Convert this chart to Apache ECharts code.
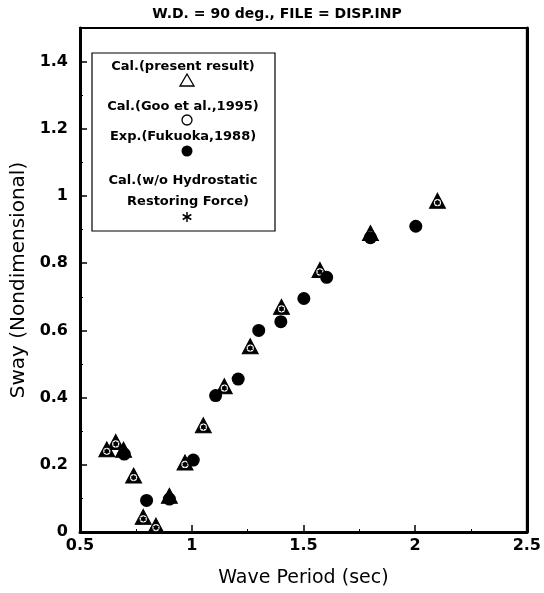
<!DOCTYPE html>
<html>
<head>
<meta charset="utf-8">
<script src="https://cdn.jsdelivr.net/npm/echarts@6/dist/echarts.min.js"></script>
<style>
  html, body { margin: 0; padding: 0; background: #fff; }
  #chart { width: 544px; height: 593px; }
</style>
</head>
<body>
<div id="chart"></div>
<script>
// Datos (periodo en s, sway adimensional)
var calPeriod = [0.62, 0.66, 0.695, 0.74, 0.783, 0.84, 0.9, 0.97, 1.052, 1.146, 1.262, 1.402, 1.574, 1.8, 2.1];
var calSway   = [0.246, 0.268, 0.245, 0.168, 0.045, 0.019, 0.108, 0.207, 0.318, 0.434, 0.553, 0.67, 0.78, 0.89, 0.986];
var expPeriod = [0.698, 0.798, 0.9, 1.007, 1.107, 1.208, 1.30, 1.399, 1.502, 1.604, 1.8, 2.003];
var expSway   = [0.232, 0.094, 0.098, 0.214, 0.406, 0.455, 0.6, 0.626, 0.695, 0.758, 0.876, 0.91];
var seriesNames = ['Cal.(present result)', 'Cal.(Goo et al.,1995)', 'Exp.(Fukuoka,1988)', 'Cal.(w/o Hydrostatic Restoring Force)'];
var xTicks = [0.5, 1, 1.5, 2, 2.5];
var yTicks = [0, 0.2, 0.4, 0.6, 0.8, 1, 1.2, 1.4];

function pairs(xs, ys) {
  return xs.map(function (x, i) { return [x, ys[i]]; });
}

var font = '"DejaVu Sans", Verdana, sans-serif';
var asterisk = 'path://M9 0L11 0L11 20L9 20Z M0.84 5.87L1.84 4.13L19.16 14.13L18.16 15.87Z M18.16 4.13L19.16 5.87L1.84 15.87L0.84 14.13Z';

var chart = echarts.init(document.getElementById('chart'));

// Texto de la leyenda (caja dibujada a mano dentro del grafico)
var legendFont = 'bold 13px ' + font;

var option = {
  animation: false,
  backgroundColor: '#fff',
  title: {
    text: 'W.D. = 90 deg., FILE = DISP.INP',
    left: 272, top: 2, textAlign: 'center',
    textStyle: { fontFamily: font, fontSize: 14, fontWeight: 'bold', color: '#000' }
  },
  grid: {
    left: 80, right: 17, top: 28, bottom: 56,
    show: true, borderColor: '#000', borderWidth: 2
  },
  xAxis: {
    type: 'value', min: 0.5, max: 2.5, interval: 0.5,
    name: 'Wave Period (sec)', nameLocation: 'middle', nameGap: 37,
    nameTextStyle: { fontFamily: font, fontSize: 19, color: '#000' },
    axisLine: { show: true, onZero: false, lineStyle: { color: '#000', width: 3 } },
    axisTick: { show: true, inside: true, length: 7, lineStyle: { color: '#000', width: 1.5 } },
    minorTick: { show: true, splitNumber: 2, length: 3, lineStyle: { color: '#000' } },
    splitLine: { show: false },
    axisLabel: {
      fontFamily: font, fontSize: 16, fontWeight: 'bold', color: '#000', margin: 6,
      formatter: function (v) { return xTicks.indexOf(v) >= 0 ? String(v) : ''; }
    }
  },
  yAxis: [{
    type: 'value', min: 0, max: 1.5, interval: 0.2,
    name: 'Sway (Nondimensional)', nameLocation: 'middle', nameGap: 50,
    nameTextStyle: { fontFamily: font, fontSize: 20, color: '#000' },
    axisLine: { show: true, onZero: false, lineStyle: { color: '#000', width: 3 } },
    axisTick: { show: true, inside: true, length: 7, lineStyle: { color: '#000', width: 1.5 } },
    minorTick: { show: true, splitNumber: 2, length: 3, lineStyle: { color: '#000' } },
    splitLine: { show: false },
    axisLabel: {
      fontFamily: font, fontSize: 16, fontWeight: 'bold', color: '#000', margin: 12,
      showMaxLabel: false,
      formatter: function (v) { return yTicks.indexOf(Math.round(v * 10) / 10) >= 0 ? String(Math.round(v * 10) / 10) : ''; }
    }
  }, {
    type: 'value', min: 0, max: 1.5, position: 'right',
    axisLine: { show: true, lineStyle: { color: '#000', width: 3 } },
    axisTick: { show: false }, axisLabel: { show: false }, splitLine: { show: false }
  }],
  series: [
    {
      name: seriesNames[0], type: 'scatter', data: pairs(calPeriod, calSway),
      symbol: 'triangle', symbolSize: [16, 15],
      itemStyle: { color: '#000', borderColor: '#000', borderWidth: 1, opacity: 1 }
    },
    {
      name: seriesNames[1], type: 'scatter', data: pairs(calPeriod, calSway),
      symbol: 'circle', symbolSize: 6, symbolOffset: [0, 2],
      itemStyle: { color: '#000', borderColor: '#fff', borderWidth: 1.2, opacity: 1 }
    },
    {
      name: seriesNames[3], type: 'scatter', data: pairs(calPeriod, calSway),
      symbol: asterisk, symbolSize: 6, symbolOffset: [0, 2],
      itemStyle: { color: '#000', opacity: 1 }
    },
    {
      name: seriesNames[2], type: 'scatter', data: pairs(expPeriod, expSway),
      symbol: 'circle', symbolSize: 13,
      itemStyle: { color: '#000', opacity: 1 }
    }
  ],
  graphic: [
    { type: 'rect', shape: { x: 92, y: 53, width: 183, height: 178 },
      style: { fill: '#fff', stroke: '#000', lineWidth: 1.2 }, z: 10 },
    { type: 'text', x: 183, y: 67, z: 11,
      style: { text: 'Cal.(present result)', font: legendFont, fill: '#000', textAlign: 'center', textVerticalAlign: 'middle' } },
    { type: 'polygon', z: 11, shape: { points: [[187, 74], [180, 86], [194, 86]] },
      style: { fill: '#fff', stroke: '#000', lineWidth: 1.3 } },
    { type: 'text', x: 183, y: 107, z: 11,
      style: { text: 'Cal.(Goo et al.,1995)', font: legendFont, fill: '#000', textAlign: 'center', textVerticalAlign: 'middle' } },
    { type: 'circle', z: 11, shape: { cx: 187, cy: 120, r: 5 },
      style: { fill: '#fff', stroke: '#000', lineWidth: 1.3 } },
    { type: 'text', x: 183, y: 137, z: 11,
      style: { text: 'Exp.(Fukuoka,1988)', font: legendFont, fill: '#000', textAlign: 'center', textVerticalAlign: 'middle' } },
    { type: 'circle', z: 11, shape: { cx: 187, cy: 151, r: 5.5 },
      style: { fill: '#000' } },
    { type: 'text', x: 183, y: 181, z: 11,
      style: { text: 'Cal.(w/o Hydrostatic', font: legendFont, fill: '#000', textAlign: 'center', textVerticalAlign: 'middle' } },
    { type: 'text', x: 188, y: 202, z: 11,
      style: { text: 'Restoring Force)', font: legendFont, fill: '#000', textAlign: 'center', textVerticalAlign: 'middle' } },
    { type: 'line', z: 11, shape: { x1: 187, y1: 212, x2: 187, y2: 222 }, style: { stroke: '#000', lineWidth: 1.5 } },
    { type: 'line', z: 11, shape: { x1: 182.7, y1: 214.5, x2: 191.3, y2: 219.5 }, style: { stroke: '#000', lineWidth: 1.5 } },
    { type: 'line', z: 11, shape: { x1: 182.7, y1: 219.5, x2: 191.3, y2: 214.5 }, style: { stroke: '#000', lineWidth: 1.5 } }
  ]
};

chart.setOption(option);
</script>
</body>
</html>
